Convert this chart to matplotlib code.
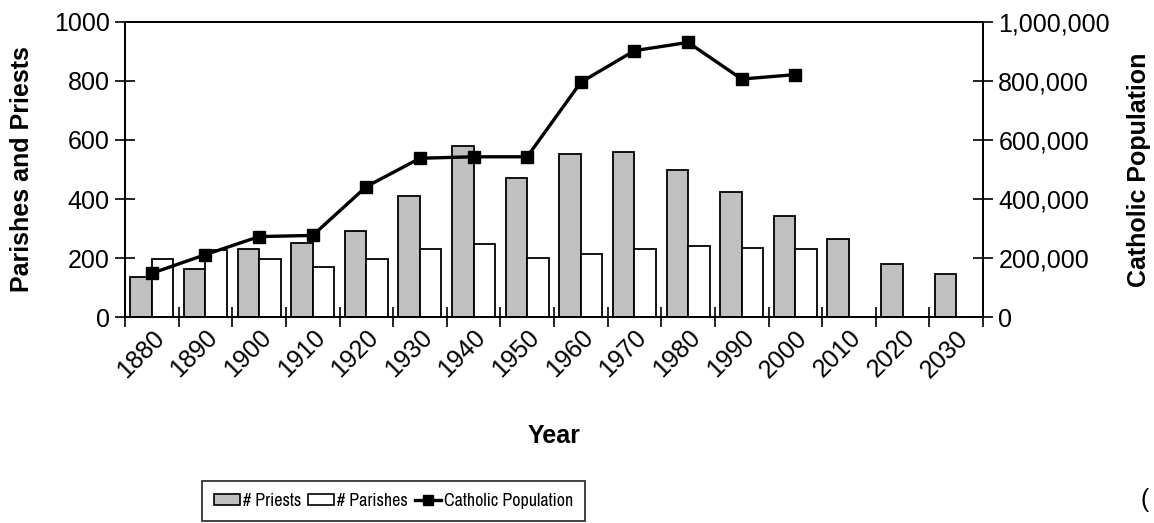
import matplotlib
matplotlib.use("Agg")
import matplotlib.pyplot as plt
import numpy as np
from matplotlib.patches import Patch
from matplotlib.lines import Line2D
from matplotlib import font_manager

plt.rcParams['font.family'] = ['Liberation Sans', 'DejaVu Sans']

years = ["1880", "1890", "1900", "1910", "1920", "1930", "1940", "1950",
         "1960", "1970", "1980", "1990", "2000", "2010", "2020", "2030"]
priests = [135, 162, 230, 250, 291, 411, 580, 472,
           553, 560, 499, 425, 344, 264, 181, 145]
parishes = [198, 228, 198, 169, 198, 230, 249, 202,
            215, 230, 242, 235, 230]
population = [149000, 212000, 273000, 277000, 442000, 538000, 543000, 543000,
              795000, 902000, 930000, 806000, 821000]
left_ticks = [0, 200, 400, 600, 800, 1000]
right_ticks = [0, 200000, 400000, 600000, 800000, 1000000]
right_labels = ["0", "200,000", "400,000", "600,000", "800,000", "1,000,000"]
legend_labels = ["# Priests", "# Parishes", "Catholic Population"]

FS = 18
fig = plt.figure(figsize=(11.54, 5.23), dpi=100)
ax = fig.add_axes([125/1154, 1 - 317.3/523, (983 - 125)/1154, (317.3 - 21.7)/523])

x = np.arange(len(years))
w = 0.4
ax.bar(x - w/2, priests, width=w, color='#C0C0C0', edgecolor='black', linewidth=1.3, zorder=2)
xp = np.arange(len(parishes))
ax.bar(xp + w/2, parishes, width=w, color='white', edgecolor='black', linewidth=1.3, zorder=2)

ax.set_xlim(-0.5, len(years) - 0.5)
ax.set_ylim(0, 1000)
ax.set_yticks(left_ticks)
ax.set_yticklabels([str(v) for v in left_ticks], fontsize=FS)
ax.set_xticks(np.arange(len(years) + 1) - 0.5)
ax.set_xticklabels([])
ax.set_xticks(x, minor=True)
ax.set_xticklabels(years, minor=True, rotation=45, ha='right', va='top',
                   rotation_mode='anchor', fontsize=FS)
ax.tick_params(axis='x', which='minor', length=0, pad=6)
ax.tick_params(axis='both', which='major', direction='inout', length=14, width=1.2)
ax.tick_params(axis='y', pad=4)
for s in ax.spines.values():
    s.set_linewidth(1.3)

ax.set_ylabel("Parishes and Priests", fontsize=FS, fontweight='bold', labelpad=14)
ax.set_xlabel("Year", fontsize=FS, fontweight='bold', labelpad=30)

ax2 = ax.twinx()
ax2.plot(np.arange(len(population)), population, color='black', linewidth=2.4,
         marker='s', markersize=8, zorder=3)
ax2.set_ylim(0, 1000000)
ax2.set_yticks(right_ticks)
ax2.set_yticklabels(right_labels, fontsize=FS)
ax2.tick_params(axis='y', direction='inout', length=14, width=1.2, pad=4)
for s in ax2.spines.values():
    s.set_linewidth(1.3)
ax2.set_ylabel("Catholic Population", fontsize=FS, fontweight='bold', labelpad=12)

# legend: pick a narrow sans family if one is installed
names = {f.name for f in font_manager.fontManager.ttflist}
candidates = ['Liberation Sans Narrow', 'Arial Narrow', 'Archivo Narrow', 'Roboto Condensed',
              'PT Sans Narrow', 'Fira Sans Condensed', 'IBM Plex Sans Condensed',
              'Encode Sans Condensed', 'Asap Condensed', 'Pragati Narrow',
              'Barlow Semi Condensed', 'Liberation Sans']
leg_family = next(c for c in candidates if c in names or c == 'Liberation Sans')

target_w, target_h = 369.0, 40.0
leg_center = (393.5/1154, 1 - 501/523)


def make_legend(size, bpad):
    handles = [Patch(facecolor='#C0C0C0', edgecolor='black', linewidth=1.2),
               Patch(facecolor='white', edgecolor='black', linewidth=1.2),
               Line2D([0], [0], color='black', linewidth=2.4, marker='s', markersize=7)]
    lg = fig.legend(handles, legend_labels, loc='center', bbox_to_anchor=leg_center,
                    ncol=3, prop={'family': leg_family, 'size': size}, frameon=True,
                    fancybox=False, edgecolor='black',
                    handlelength=1.45, handletextpad=0.2, columnspacing=0.35,
                    borderpad=bpad, handleheight=0.55, borderaxespad=0)
    lg.get_frame().set_linewidth(1.3)
    return lg


size0, bpad0 = 14.0, 0.3
leg = make_legend(size0, bpad0)
renderer = fig.canvas.get_renderer()
bb = leg.get_window_extent(renderer)
size1 = size0 * target_w / bb.width
leg.remove()
leg = make_legend(size1, bpad0)
bb = leg.get_window_extent(renderer)
fs_px = size1 * 100 / 72.0
bpad1 = max(0.1, bpad0 + (target_h - bb.height) / (2 * fs_px))
leg.remove()
leg = make_legend(size1, bpad1)

fig.text(1141/1154, 1 - 500/523, "(", fontsize=FS, ha='left', va='center')

fig.savefig("out.png", dpi=100)
